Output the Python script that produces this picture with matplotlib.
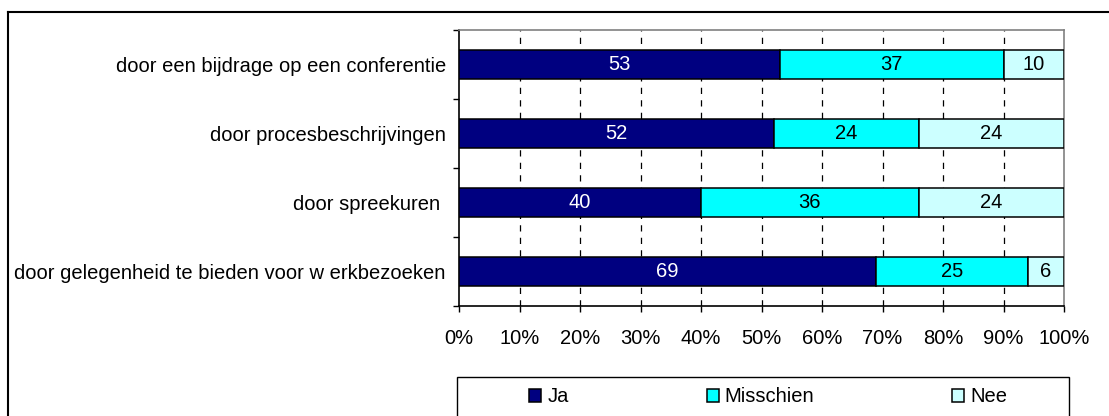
import numpy as np
import matplotlib
matplotlib.use("Agg")
import matplotlib.pyplot as plt
from matplotlib.patches import Rectangle
from matplotlib.lines import Line2D

plt.rcParams["font.family"] = ["Liberation Sans", "DejaVu Sans"]

# data, top to bottom as in the chart
categories = [
    "door een bijdrage op een conferentie",
    "door procesbeschrijvingen",
    "door spreekuren ",
    "door gelegenheid te bieden voor w erkbezoeken",
]
ja = [53, 52, 40, 69]
misschien = [37, 24, 36, 25]
nee = [10, 24, 24, 6]
series_names = ["Ja", "Misschien", "Nee"]
colors = ["#000080", "#00FFFF", "#CCFFFF"]
text_colors = ["white", "black", "black"]

FS = 14.5

fig = plt.figure(figsize=(11.09, 4.16), dpi=100)
ax = fig.add_axes([459 / 1109, 1 - 306 / 416, 605 / 1109, 276 / 416])

y = np.arange(len(categories))
left = np.zeros(len(categories))
for vals, name, col, tcol in zip([ja, misschien, nee], series_names, colors, text_colors):
    vals = np.array(vals)
    ax.barh(y, vals, left=left, height=0.42, color=col, edgecolor="black",
            linewidth=1.1, label=name, zorder=3)
    for yi, l, v in zip(y, left, vals):
        ax.text(l + v / 2, yi, str(v), ha="center", va="center",
                color=tcol, fontsize=FS, zorder=4)
    left = left + vals

ax.set_xlim(0, 100)
ax.set_ylim(len(categories) - 0.5, -0.5)

ax.set_xticks(np.arange(0, 101, 10))
ax.set_xticklabels([f"{v}%" for v in range(0, 101, 10)], fontsize=FS)
ax.tick_params(axis="x", length=4.3, width=1, pad=12.5, color="black")

ax.set_yticks(y)
ax.set_yticklabels(categories, fontsize=FS)
ax.tick_params(axis="y", which="major", length=0, pad=9.5)
ax.set_yticks(np.arange(-0.5, len(categories)), minor=True)
ax.tick_params(axis="y", which="minor", length=4.3, width=1, color="black")

for xv in range(10, 100, 10):
    ax.axvline(xv, color="black", linewidth=0.9, linestyle=(0, (5, 5)), zorder=1)

ax.spines["left"].set_color("black")
ax.spines["bottom"].set_color("black")
ax.spines["top"].set_color("#808080")
ax.spines["right"].set_color("#808080")
for s in ax.spines.values():
    s.set_linewidth(1.2)

# legend box, cut off by the image edge
fig.patches.append(Rectangle((457 / 1109, -0.1), 612 / 1109, 0.1 + 1 - 377 / 416,
                             transform=fig.transFigure, fill=False,
                             edgecolor="black", linewidth=1))
fig.legend(loc="center left", bbox_to_anchor=(519 / 1109, 1 - 397 / 416),
           ncol=3, frameon=False, fontsize=FS, borderpad=0,
           handlelength=0.6, handleheight=0.6, handletextpad=0.3,
           columnspacing=6.85)

# outer chart frame
fig.lines.append(Line2D([8 / 1109, 8 / 1109], [0, 1 - 12 / 416],
                        transform=fig.transFigure, color="black", linewidth=1.5))
fig.lines.append(Line2D([8 / 1109, 1], [1 - 12 / 416, 1 - 12 / 416],
                        transform=fig.transFigure, color="black", linewidth=1.5))

fig.savefig("out.png", dpi=100)
